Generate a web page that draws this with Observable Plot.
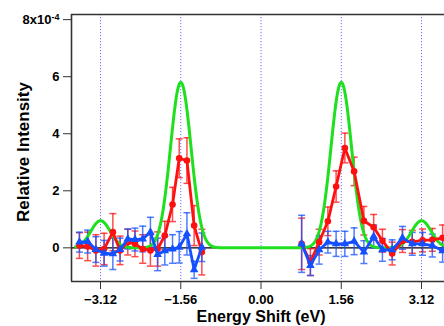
<!DOCTYPE html>
<html><head><meta charset="utf-8">
<script src="https://cdn.jsdelivr.net/npm/d3@7"></script>
<script src="https://cdn.jsdelivr.net/npm/@observablehq/plot@0.6"></script>
<style>
html,body{margin:0;padding:0;background:#fff;overflow:hidden}
</style></head><body><div id="chart"></div>
<script>
// Axis ticks and limits (intensity in units of 1e-4)
const xTicks = [-3.12, -1.56, 0, 1.56, 3.12];
const yTicks = [0, 2, 4, 6, 8];
const xDomain = [-3.684, 3.567];
const yDomain = [-1.18, 8.18];
const xTitle = "Energy Shift (eV)";
const yTitle = "Relative Intensity";

// Left cluster of measured points
const leftEnergy = [-3.53, -3.37, -3.21, -3.05, -2.88, -2.74, -2.59, -2.45, -2.30, -2.15, -2.01, -1.87, -1.72, -1.59, -1.44, -1.30, -1.15];
const leftRed    = [0.08, 0.05, -0.09, -0.04, 0.55, -0.09, 0.20, 0.14, -0.04, -0.09, -0.04, 0.43, 1.52, 3.14, 3.06, 0.78, -0.15];
const leftRedErr = [0.45, 0.50, 0.55, 0.55, 0.65, 0.50, 0.45, 0.45, 0.50, 0.55, 0.60, 0.50, 0.60, 0.68, 0.80, 0.70, 0.80];
const leftBlue    = [0.20, 0.22, -0.06, -0.19, -0.21, -0.06, 0.31, 0.29, 0.31, 0.55, -0.23, -0.10, -0.04, 0.02, 0.49, -0.77, 0.02];
const leftBlueErr = [0.35, 0.40, 0.45, 0.45, 0.55, 0.40, 0.35, 0.40, 0.45, 0.52, 0.57, 0.50, 0.50, 0.55, 0.74, 0.30, 0.50];

// Right cluster of measured points
const rightEnergy = [0.79, 0.96, 1.13, 1.30, 1.46, 1.63, 1.81, 2.00, 2.19, 2.36, 2.55, 2.75, 2.94, 3.14, 3.33, 3.53];
const rightRed    = [0.14, -0.50, 0.20, 0.93, 2.15, 3.50, 2.68, 0.95, 0.72, 0.25, -0.20, 0.24, 0.21, 0.26, 0.28, 0.35];
const rightRedErr = [0.90, 0.47, 0.45, 0.50, 0.55, 0.52, 0.50, 0.50, 0.45, 0.40, 0.40, 0.40, 0.40, 0.40, 0.40, 0.45];
const rightBlue    = [0.14, -0.62, -0.07, 0.20, 0.14, 0.14, 0.23, -0.15, 0.40, -0.07, -0.07, 0.35, 0.14, 0.14, 0.08, -0.10];
const rightBlueErr = [1.00, 0.35, 0.50, 0.38, 0.44, 0.44, 0.47, 0.40, 0.40, 0.40, 0.35, 0.40, 0.40, 0.40, 0.40, 0.40];

// Model spectrum: Gaussian peaks (center eV, height 1e-4, sigma eV)
const peakCenters = [-3.12, -1.56, 1.56, 3.12];
const peakHeights = [0.95, 5.8, 5.8, 0.95];
const peakSigmas  = [0.19, 0.20, 0.20, 0.19];

const RED = "#ff1010", BLUE = "#1450ff", GREEN = "#1ee01e";

function rows(energy, values, errors, series, cluster) {
  return energy.map((E, i) => ({E, v: values[i], lo: values[i] - errors[i], hi: values[i] + errors[i], series, key: series + cluster}));
}
const red = [...rows(leftEnergy, leftRed, leftRedErr, "red", "L"), ...rows(rightEnergy, rightRed, rightRedErr, "red", "R")];
const blue = [...rows(leftEnergy, leftBlue, leftBlueErr, "blue", "L"), ...rows(rightEnergy, rightBlue, rightBlueErr, "blue", "R")];

const grid = d3.range(xDomain[0] + 0.08, xDomain[1] + 0.1, 0.01);
const model = grid.map(E => ({E, v: d3.sum(peakCenters, (c, i) => peakHeights[i] * Math.exp(-((E - c) ** 2) / (2 * peakSigmas[i] ** 2)))}));

const capSymbol = {draw(ctx, size) { const r = Math.sqrt(size / Math.PI); ctx.moveTo(-r, 0); ctx.lineTo(r, 0); }};

function errMarks(data, color) {
  return [
    Plot.ruleX(data, {x: "E", y1: "lo", y2: "hi", stroke: color, strokeWidth: 1.5, strokeOpacity: 0.75}),
    Plot.dot(data, {x: "E", y: "lo", symbol: capSymbol, r: 3.5, stroke: color, strokeWidth: 1.5, strokeOpacity: 0.75}),
    Plot.dot(data, {x: "E", y: "hi", symbol: capSymbol, r: 3.5, stroke: color, strokeWidth: 1.5, strokeOpacity: 0.75})
  ];
}

const chart = Plot.plot({
  width: 444, height: 326,
  marginLeft: 71, marginRight: 0, marginTop: 14, marginBottom: 45,
  style: {fontFamily: "'Liberation Sans', Arial, sans-serif", fontSize: "13px", fontWeight: "bold", background: "white", color: "black"},
  x: {domain: xDomain},
  y: {domain: yDomain},
  marks: [
    Plot.ruleX(xTicks, {stroke: "#6f6fff", strokeWidth: 1, strokeDasharray: "1.2,1.8"}),
    Plot.ruleY([0], {stroke: "black", strokeWidth: 1.4}),
    ...errMarks(red, RED),
    ...errMarks(blue, BLUE),
    Plot.line(model, {x: "E", y: "v", stroke: GREEN, strokeWidth: 3, clip: true}),
    Plot.line(red, {x: "E", y: "v", z: "key", stroke: RED, strokeWidth: 2.8}),
    Plot.dot(red, {x: "E", y: "v", r: 3.3, fill: RED}),
    Plot.line(blue, {x: "E", y: "v", z: "key", stroke: BLUE, strokeWidth: 2.8}),
    Plot.dot(blue, {x: "E", y: "v", symbol: "triangle", r: 3.2, fill: BLUE}),
    Plot.ruleY([yDomain[0], yDomain[1]], {stroke: "#333", strokeWidth: 1.6}),
    Plot.ruleX([xDomain[0]], {stroke: "#333", strokeWidth: 1.6}),
    Plot.axisX({ticks: xTicks, tickSize: 8, tickPadding: 5.5, tickFormat: d3.format(".2f"), label: null, fontSize: 13, fontWeight: "bold", stroke: "#333"}),
    Plot.axisY({ticks: yTicks, tickSize: 8, tickPadding: 4, tickFormat: d => d === 8 ? "8x10" : String(d), label: null, fontSize: 13, fontWeight: "bold", stroke: "#333"}),
    Plot.text([xTitle], {frameAnchor: "bottom", textAnchor: "middle", dx: 3, dy: 35.5, fontSize: 16, fontWeight: "bold", lineAnchor: "middle"}),
    Plot.text([yTitle], {frameAnchor: "left", textAnchor: "middle", dx: -48, dy: 4, rotate: -90, fontSize: 17, fontWeight: "bold", lineAnchor: "middle"})
  ]
});
document.getElementById("chart").appendChild(chart);
// superscript exponent on the top y tick label
d3.select(chart).selectAll("text").filter(function() { return this.textContent === "8x10"; })
  .append("tspan").attr("dy", "-0.45em").attr("font-size", "9px").text("-4");
</script></body></html>
